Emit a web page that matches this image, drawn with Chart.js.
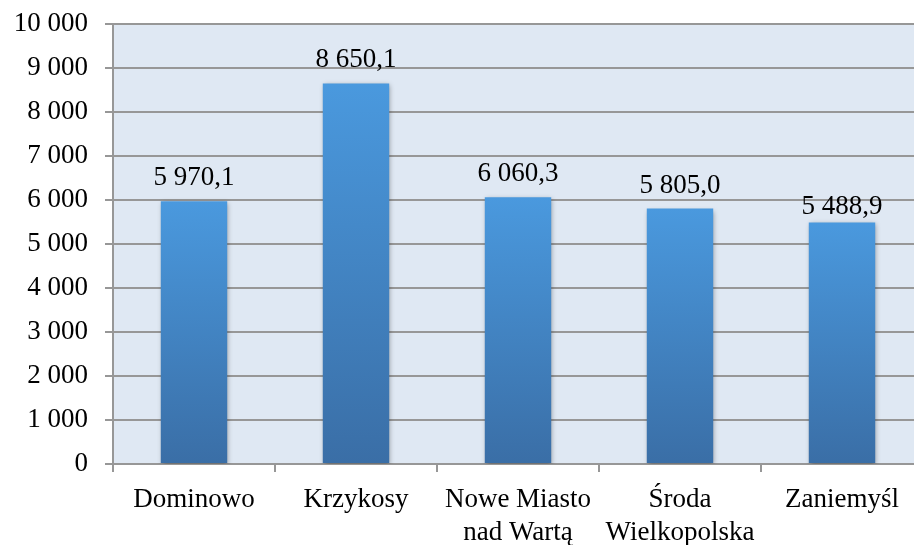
<!DOCTYPE html>
<html>
<head>
<meta charset="utf-8">
<script src="https://cdn.jsdelivr.net/npm/chart.js@4/dist/chart.umd.min.js"></script>
<style>
    html, body { margin: 0; padding: 0; background: #fff; overflow: hidden; }
    #wrap { width: 923px; height: 545px; position: relative; }
</style>
</head>
<body>
<div id="wrap"><canvas id="gminyChart"></canvas></div>
<script>
// Dane z wykresu
const gminy = ['Dominowo', 'Krzykosy', ['Nowe Miasto', 'nad Wartą'], ['Środa', 'Wielkopolska'], 'Zaniemyśl'];
const wartosci = [5970.1, 8650.1, 6060.3, 5805.0, 5488.9];
const osY = [0, 1000, 2000, 3000, 4000, 5000, 6000, 7000, 8000, 9000, 10000];

const czcionka = "'Liberation Serif', 'Times New Roman', serif";
const szary = '#979797';

function formatLiczby(v, miejsca) {
    const parts = v.toFixed(miejsca).split('.');
    const calk = parts[0].replace(/\B(?=(\d{3})+(?!\d))/g, ' ');
    return parts.length > 1 ? calk + ',' + parts[1] : calk;
}

// Tło obszaru wykresu
const tloPlugin = {
    id: 'tlo',
    beforeDraw(chart) {
        const { ctx, chartArea: a } = chart;
        ctx.save();
        ctx.fillStyle = '#dfe8f3';
        ctx.fillRect(a.left, a.top, a.right - a.left, a.bottom - a.top);
        ctx.restore();
    }
};

// Cień słupków
const cienPlugin = {
    id: 'cien',
    beforeDatasetsDraw(chart) {
        const ctx = chart.ctx;
        ctx.save();
        ctx.shadowColor = 'rgba(0, 0, 0, 0.35)';
        ctx.shadowBlur = 5;
        ctx.shadowOffsetX = 1;
        ctx.shadowOffsetY = 2;
    },
    afterDatasetsDraw(chart) {
        chart.ctx.restore();
    }
};

// Etykiety nad słupkami
const etykietyPlugin = {
    id: 'etykiety',
    afterDatasetsDraw(chart, args, opts) {
        const ctx = chart.ctx;
        const meta = chart.getDatasetMeta(0);
        ctx.save();
        ctx.font = '27px ' + czcionka;
        ctx.fillStyle = '#000';
        ctx.textAlign = 'center';
        ctx.textBaseline = 'alphabetic';
        meta.data.forEach((bar, i) => {
            const lift = (opts.lift && opts.lift[i] != null) ? opts.lift[i] : 16;
            ctx.fillText(formatLiczby(wartosci[i], 1), bar.x, bar.y - lift);
        });
        ctx.restore();
    }
};

const ctx = document.getElementById('gminyChart').getContext('2d');
new Chart(ctx, {
    type: 'bar',
    data: {
        labels: gminy,
        datasets: [{
            data: wartosci,
            backgroundColor: function(context) {
                const chart = context.chart;
                const a = chart.chartArea;
                if (!a || context.dataIndex == null) return '#4485c6';
                const y = chart.scales.y;
                const top = y.getPixelForValue(wartosci[context.dataIndex]);
                const bottom = y.getPixelForValue(0);
                const g = chart.ctx.createLinearGradient(0, top, 0, bottom);
                g.addColorStop(0, '#4a99de');
                g.addColorStop(1, '#3a6ea6');
                return g;
            },
            borderWidth: 0,
            categoryPercentage: 1,
            barPercentage: 0.41
        }]
    },
    options: {
        responsive: true,
        maintainAspectRatio: false,
        animation: false,
        layout: { padding: { top: 24, right: 0, left: 0, bottom: 0 } },
        plugins: {
            legend: { display: false },
            tooltip: { enabled: false },
            etykiety: { lift: [16, 16, 16, 16, 8] }
        },
        scales: {
            x: {
                afterFit: function(s) { s.height = 81; },
                grid: {
                    drawOnChartArea: false,
                    drawTicks: true,
                    tickLength: 8,
                    color: szary,
                    lineWidth: 2
                },
                border: { color: szary, width: 2 },
                ticks: {
                    color: '#000',
                    padding: 12,
                    maxRotation: 0,
                    autoSkip: false,
                    font: { family: czcionka, size: 27, lineHeight: 1.2 }
                }
            },
            y: {
                min: 0,
                max: 10000,
                afterFit: function(s) {
                    s.width = 113;
                    s.paddingTop = 0;
                    s.paddingBottom = 0;
                },
                afterBuildTicks: function(s) {
                    s.ticks = osY.map(v => ({ value: v }));
                },
                grid: {
                    color: szary,
                    lineWidth: 2,
                    tickLength: 8
                },
                border: { color: szary, width: 2 },
                ticks: {
                    color: '#000',
                    padding: 17,
                    font: { family: czcionka, size: 27 },
                    callback: function(v) { return formatLiczby(v, 0); }
                }
            }
        }
    },
    plugins: [tloPlugin, cienPlugin, etykietyPlugin]
});
</script>
</body>
</html>
